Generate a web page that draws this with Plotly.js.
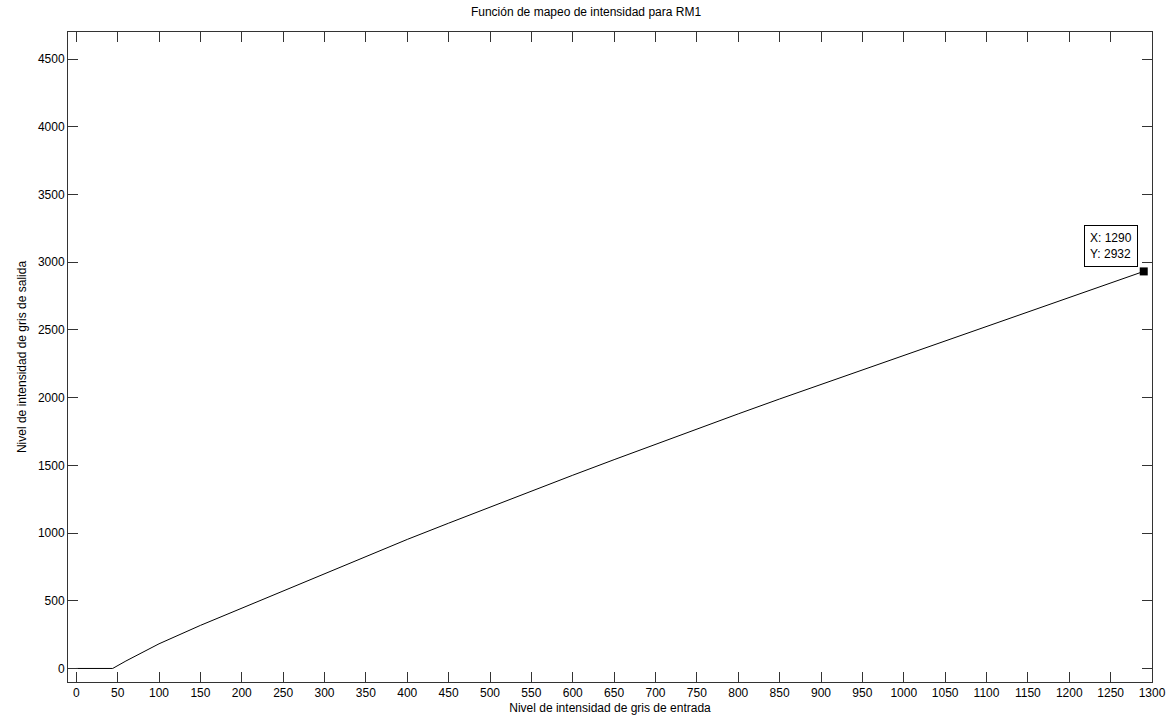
<!DOCTYPE html>
<html>
<head>
<meta charset="utf-8">
<script src="https://cdn.plot.ly/plotly-3.0.1.min.js"></script>
<style>html,body{margin:0;padding:0;background:#fff;}#chart{width:1172px;height:722px;}</style>
</head>
<body>
<div id="chart"></div>
<script>
const inputLevel = [0, 44, 60, 80, 100, 150, 200, 250, 300, 350, 400, 450, 500, 550, 600, 650, 700, 750, 800, 850, 900, 950, 1000, 1050, 1100, 1150, 1200, 1250, 1290];
const outputLevel = [0, 0, 55, 120, 182, 318, 445, 575, 702, 828, 953, 1073, 1192, 1310, 1427, 1542, 1656, 1769, 1880, 1990, 2097, 2204, 2311, 2418, 2525, 2632, 2739, 2846, 2932];
const tipX = 1290;
const tipY = 2932;
const xTicks = [];
for (let v = 0; v <= 1300; v += 50) xTicks.push(v);
const yTicks = [0, 500, 1000, 1500, 2000, 2500, 3000, 3500, 4000, 4500];

const font = {family: 'Liberation Sans, Arial, sans-serif', size: 12, color: '#000'};

const traces = [
  {x: inputLevel, y: outputLevel, mode: 'lines', line: {color: '#000', width: 1}, hoverinfo: 'skip', showlegend: false},
  {x: [tipX], y: [tipY], mode: 'markers', marker: {symbol: 'square', size: 8, color: '#000'}, hoverinfo: 'skip', showlegend: false}
];

const axisBase = {
  showgrid: false, zeroline: false, showline: true, linecolor: '#333', linewidth: 1,
  mirror: 'ticks', ticks: 'inside', ticklen: 10, tickcolor: '#333', tickwidth: 1,
  tickfont: font
};

const layout = {
  width: 1172, height: 722,
  margin: {l: 68, r: 20, t: 32, b: 40},
  paper_bgcolor: '#fff', plot_bgcolor: '#fff',
  font: font,
  title: {text: 'Función de mapeo de intensidad para RM1', font: font, x: 0.5, xanchor: 'center', y: 0.983, yanchor: 'middle'},
  xaxis: Object.assign({}, axisBase, {
    range: [-10, 1300], tickmode: 'array', tickvals: xTicks,
    title: {text: 'Nivel de intensidad de gris de entrada', font: font, standoff: 4}
  }),
  yaxis: Object.assign({}, axisBase, {
    range: [-100, 4700], tickmode: 'array', tickvals: yTicks,
    title: {text: 'Nivel de intensidad de gris de salida', font: font, standoff: 8}
  }),
  annotations: [{
    x: tipX, y: tipY, xref: 'x', yref: 'y', showarrow: false,
    xanchor: 'right', yanchor: 'bottom', xshift: -6, yshift: 4,
    text: 'X: ' + tipX + '<br>Y: ' + tipY, align: 'left',
    font: {family: 'Liberation Sans, Arial, sans-serif', size: 12, color: '#000'},
    bgcolor: '#fff', bordercolor: '#000', borderwidth: 1, borderpad: 5
  }]
};

Plotly.newPlot('chart', traces, layout, {staticPlot: true, displayModeBar: false});
</script>
</body>
</html>
